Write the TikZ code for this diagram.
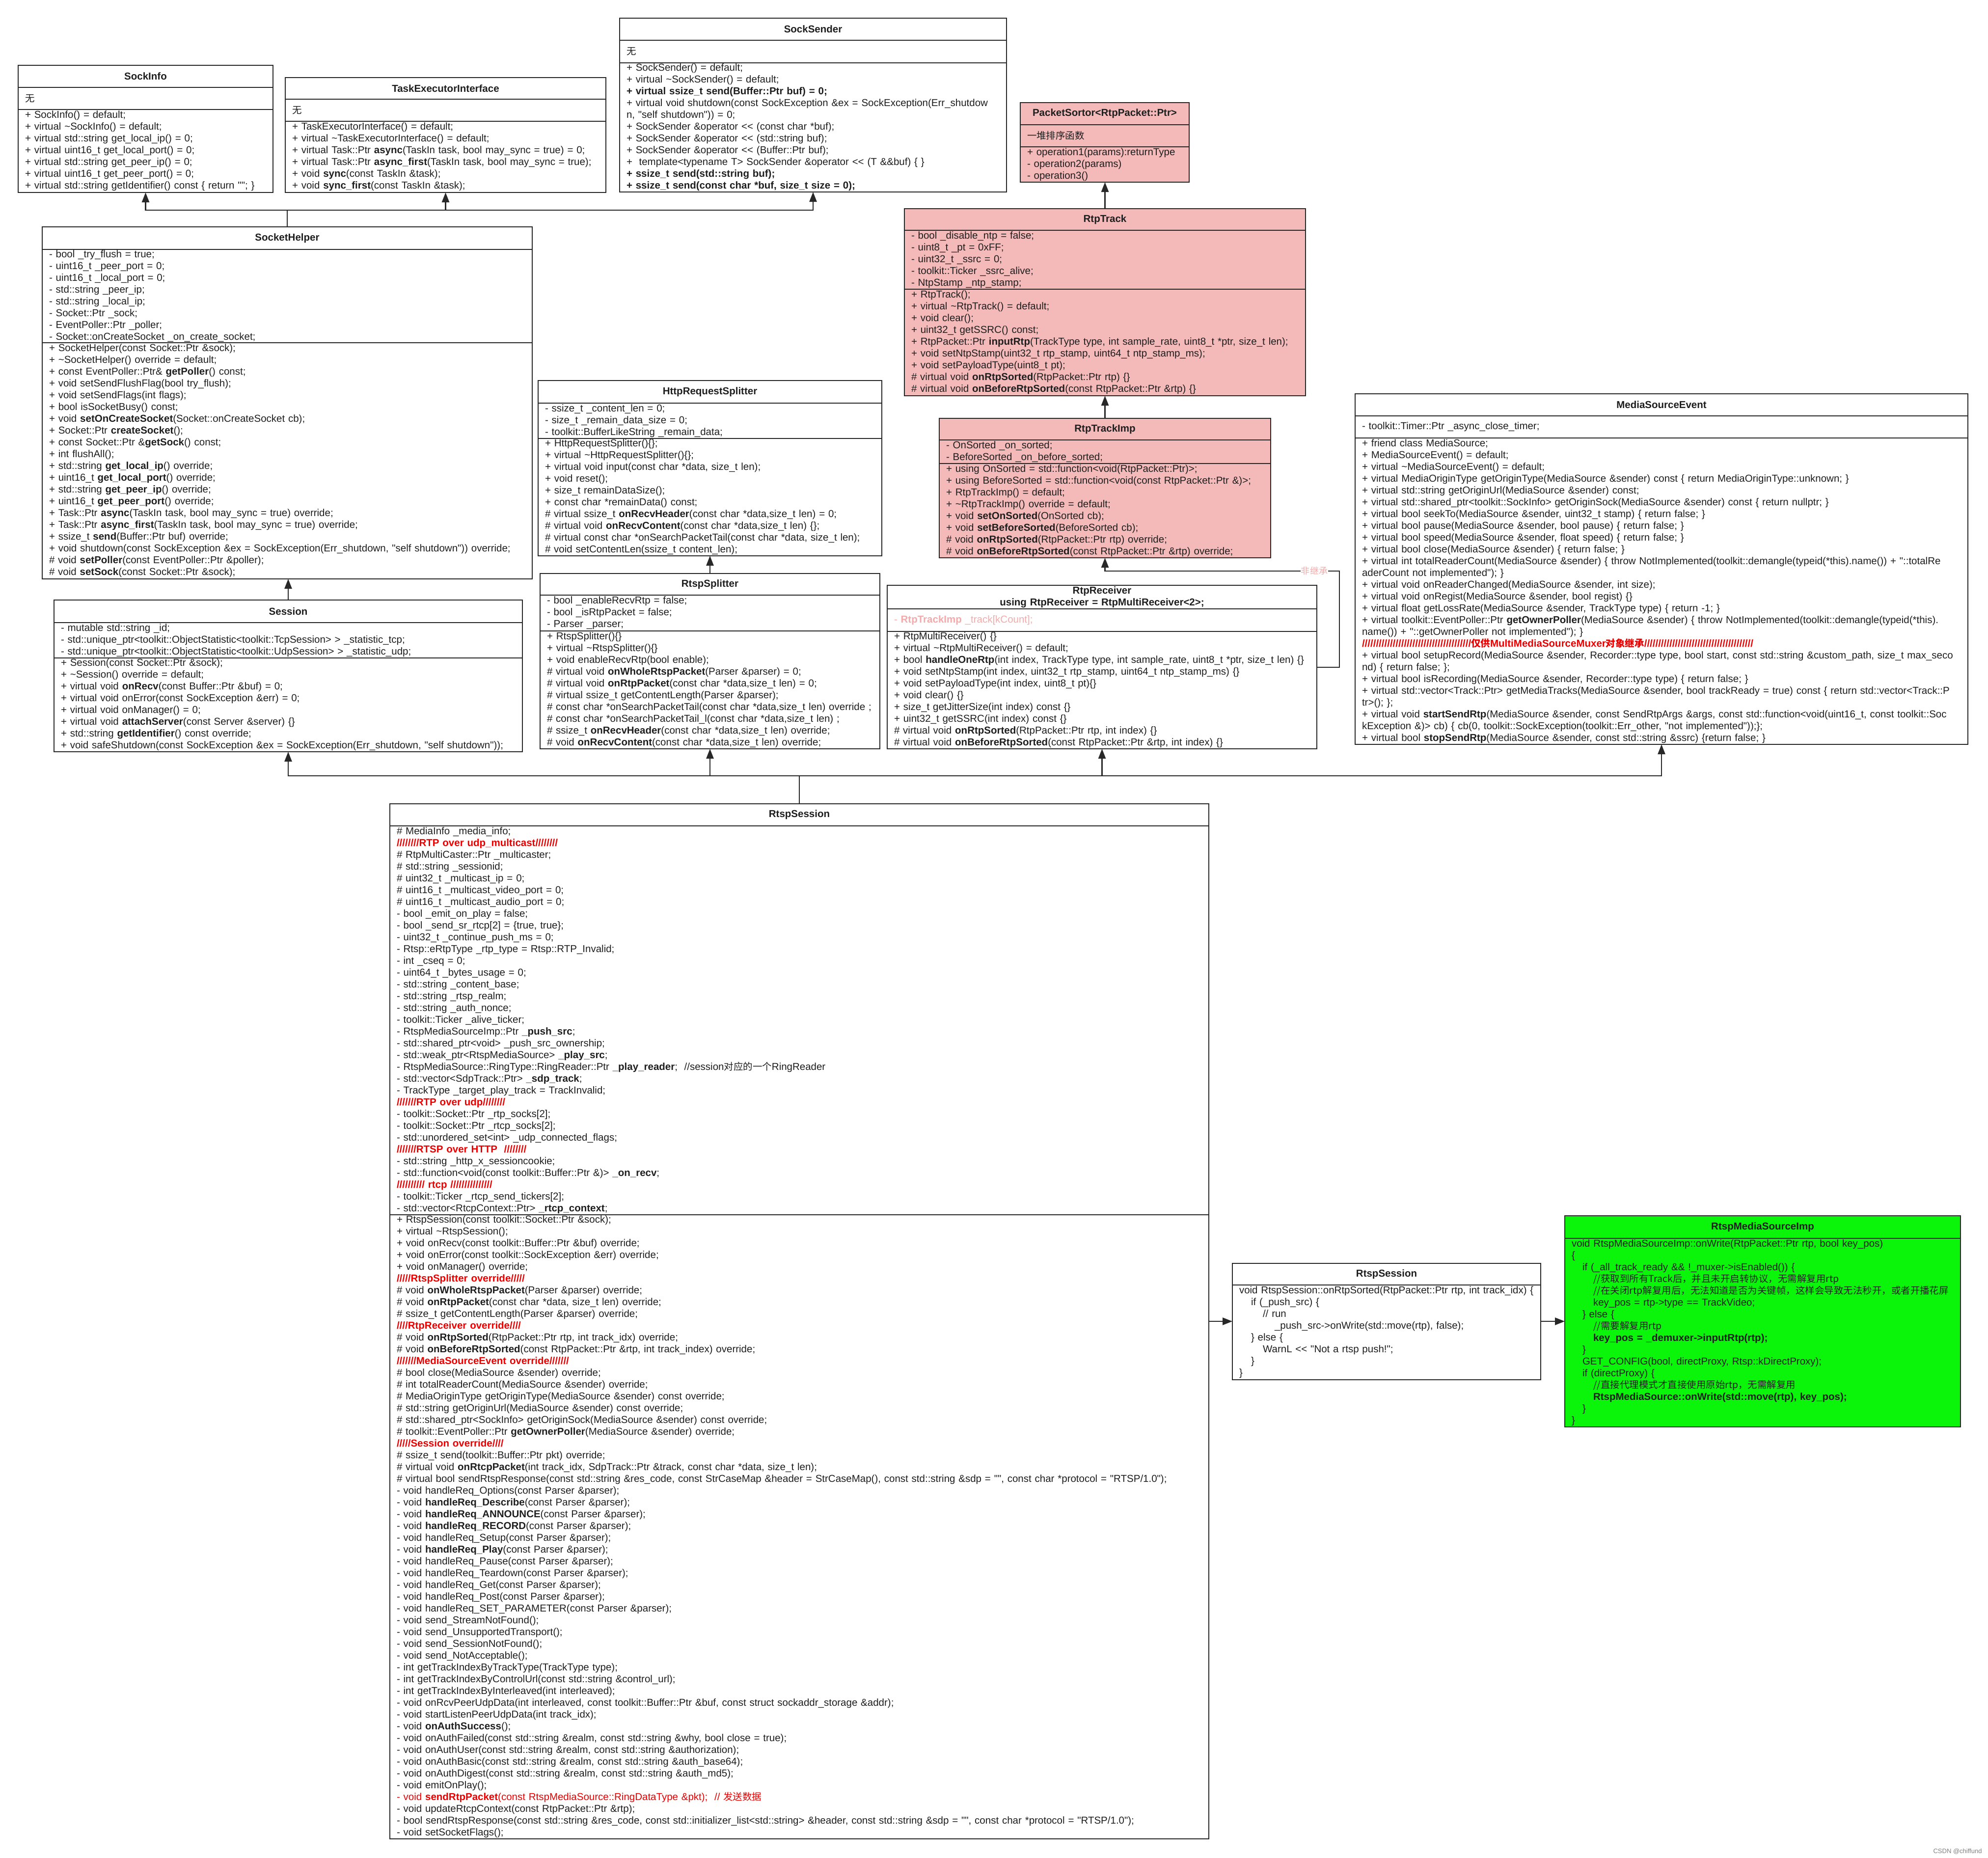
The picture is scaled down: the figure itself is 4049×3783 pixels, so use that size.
\documentclass[tikz,border=0pt]{standalone}
\usepackage{fontspec}
\setmainfont{Liberation Sans}[Ligatures=TeXOff]
\newfontfamily\cjk[Scale=0.95]{Noto Sans CJK SC}
\usetikzlibrary{arrows.meta, positioning}
\definecolor{linec}{RGB}{40,40,40}
\definecolor{textc}{RGB}{30,30,30}
\definecolor{pinkfill}{RGB}{244,185,185}
\definecolor{greenfill}{RGB}{10,245,10}
\definecolor{redtext}{RGB}{235,0,0}
\definecolor{pinktext}{RGB}{242,170,170}
\newcommand\umlfont{\fontsize{20.5}{24}\selectfont\lineskiplimit=-50pt\relax}
\newcommand\tld{\textasciitilde}
\newcommand\redsep[1]{\textcolor{redtext}{\bfseries #1}}

\begin{document}
\begin{tikzpicture}[x=1pt, y=1pt,
    umlpart/.style={draw=linec, line width=2.5pt, fill=white, outer sep=0pt, inner xsep=14pt, inner ysep=1pt, text=textc, font=\umlfont, align=left},
    umlhead/.style={umlpart, font=\umlfont\bfseries, align=center, anchor=north west},
    inherit/.style={draw=linec, line width=2.5pt, -{Triangle[length=20pt, width=15pt]}},
    notelabel/.style={fill=white, text=pinktext, inner sep=1pt, font=\fontsize{19}{22}\selectfont}]
    \path[use as bounding box, fill=white] (0,0) rectangle (4049,-3783);

    % SockInfo
    \node[umlhead, text width=491pt, minimum height=45pt] (sockinfo) at (37,-133) {SockInfo};
    \node[umlpart, text width=491pt, minimum height=45pt, below=0pt of sockinfo] (sockinfo-a) {{\cjk 无}};
    \node[umlpart, text width=491pt, minimum height=169pt, below=0pt of sockinfo-a] (sockinfo-m) {+ SockInfo() = default;\\
+ virtual \tld SockInfo() = default;\\
+ virtual std::string get\_local\_ip() = 0;\\
+ virtual uint16\_t get\_local\_port() = 0;\\
+ virtual std::string get\_peer\_ip() = 0;\\
+ virtual uint16\_t get\_peer\_port() = 0;\\
+ virtual std::string getIdentifier() const \{ return ""; \}};

    % TaskExecutorInterface
    \node[umlhead, text width=625pt, minimum height=44pt] (taskexec) at (581,-158) {TaskExecutorInterface};
    \node[umlpart, text width=625pt, minimum height=45pt, below=0pt of taskexec] (taskexec-a) {{\cjk 无}};
    \node[umlpart, text width=625pt, minimum height=145pt, below=0pt of taskexec-a] (taskexec-m) {+ TaskExecutorInterface() = default;\\
+ virtual \tld TaskExecutorInterface() = default;\\
+ virtual Task::Ptr \textbf{async}(TaskIn task, bool may\_sync = true) = 0;\\
+ virtual Task::Ptr \textbf{async\_first}(TaskIn task, bool may\_sync = true);\\
+ void \textbf{sync}(const TaskIn \&task);\\
+ void \textbf{sync\_first}(const TaskIn \&task);};

    % SockSender
    \node[umlhead, text width=760pt, minimum height=45pt] (socksender) at (1262,-37) {SockSender};
    \node[umlpart, text width=760pt, minimum height=46pt, below=0pt of socksender] (socksender-a) {{\cjk 无}};
    \node[umlpart, text width=760pt, minimum height=263pt, below=0pt of socksender-a] (socksender-m) {+ SockSender() = default;\\
+ virtual \tld SockSender() = default;\\
\textbf{+ virtual ssize\_t send(Buffer::Ptr buf) = 0;}\\
+ virtual void shutdown(const SockException \&ex = SockException(Err\_shutdow\\
n, "self shutdown")) = 0;\\
+ SockSender \&operator << (const char *buf);\\
+ SockSender \&operator << (std::string buf);\\
+ SockSender \&operator << (Buffer::Ptr buf);\\
+ \ template<typename T> SockSender \&operator << (T \&\&buf) \{ \}\\
\textbf{+ ssize\_t send(std::string buf);}\\
\textbf{+ ssize\_t send(const char *buf, size\_t size = 0);}};

    % PacketSortor
    \node[umlhead, fill=pinkfill, text width=316pt, minimum height=45pt] (sortor) at (2078,-209) {PacketSortor<RtpPacket::Ptr>};
    \node[umlpart, fill=pinkfill, text width=316pt, minimum height=45pt, below=0pt of sortor] (sortor-a) {{\cjk 一堆排序函数}};
    \node[umlpart, fill=pinkfill, text width=316pt, minimum height=72pt, below=0pt of sortor-a] (sortor-m) {+ operation1(params):returnType\\
- operation2(params)\\
- operation3()};

    % RtpTrack
    \node[umlhead, fill=pinkfill, text width=789pt, minimum height=44pt] (rtptrack) at (1842,-425) {RtpTrack};
    \node[umlpart, fill=pinkfill, text width=789pt, minimum height=120pt, below=0pt of rtptrack] (rtptrack-a) {- bool \_disable\_ntp = false;\\
- uint8\_t \_pt = 0xFF;\\
- uint32\_t \_ssrc = 0;\\
- toolkit::Ticker \_ssrc\_alive;\\
- NtpStamp \_ntp\_stamp;};
    \node[umlpart, fill=pinkfill, text width=789pt, minimum height=217pt, below=0pt of rtptrack-a] (rtptrack-m) {+ RtpTrack();\\
+ virtual \tld RtpTrack() = default;\\
+ void clear();\\
+ uint32\_t getSSRC() const;\\
+ RtpPacket::Ptr \textbf{inputRtp}(TrackType type, int sample\_rate, uint8\_t *ptr, size\_t len);\\
+ void setNtpStamp(uint32\_t rtp\_stamp, uint64\_t ntp\_stamp\_ms);\\
+ void setPayloadType(uint8\_t pt);\\
\# virtual void \textbf{onRtpSorted}(RtpPacket::Ptr rtp) \{\}\\
\# virtual void \textbf{onBeforeRtpSorted}(const RtpPacket::Ptr \&rtp) \{\}};

    % SocketHelper
    \node[umlhead, text width=970pt, minimum height=46pt] (sockhelper) at (86,-462) {SocketHelper};
    \node[umlpart, text width=970pt, minimum height=190pt, below=0pt of sockhelper] (sockhelper-a) {- bool \_try\_flush = true;\\
- uint16\_t \_peer\_port = 0;\\
- uint16\_t \_local\_port = 0;\\
- std::string \_peer\_ip;\\
- std::string \_local\_ip;\\
- Socket::Ptr \_sock;\\
- EventPoller::Ptr \_poller;\\
- Socket::onCreateSocket \_on\_create\_socket;};
    \node[umlpart, text width=970pt, minimum height=481pt, below=0pt of sockhelper-a] (sockhelper-m) {+ SocketHelper(const Socket::Ptr \&sock);\\
+ \tld SocketHelper() override = default;\\
+ const EventPoller::Ptr\& \textbf{getPoller}() const;\\
+ void setSendFlushFlag(bool try\_flush);\\
+ void setSendFlags(int flags);\\
+ bool isSocketBusy() const;\\
+ void \textbf{setOnCreateSocket}(Socket::onCreateSocket cb);\\
+ Socket::Ptr \textbf{createSocket}();\\
+ const Socket::Ptr \&\textbf{getSock}() const;\\
+ int flushAll();\\
+ std::string \textbf{get\_local\_ip}() override;\\
+ uint16\_t \textbf{get\_local\_port}() override;\\
+ std::string \textbf{get\_peer\_ip}() override;\\
+ uint16\_t \textbf{get\_peer\_port}() override;\\
+ Task::Ptr \textbf{async}(TaskIn task, bool may\_sync = true) override;\\
+ Task::Ptr \textbf{async\_first}(TaskIn task, bool may\_sync = true) override;\\
+ ssize\_t \textbf{send}(Buffer::Ptr buf) override;\\
+ void shutdown(const SockException \&ex = SockException(Err\_shutdown, "self shutdown")) override;\\
\# void \textbf{setPoller}(const EventPoller::Ptr \&poller);\\
\# void \textbf{setSock}(const Socket::Ptr \&sock);};

    % HttpRequestSplitter
    \node[umlhead, text width=672pt, minimum height=46pt] (httpsplitter) at (1096,-775) {HttpRequestSplitter};
    \node[umlpart, text width=672pt, minimum height=72pt, below=0pt of httpsplitter] (httpsplitter-a) {- ssize\_t \_content\_len = 0;\\
- size\_t \_remain\_data\_size = 0;\\
- toolkit::BufferLikeString \_remain\_data;};
    \node[umlpart, text width=672pt, minimum height=239pt, below=0pt of httpsplitter-a] (httpsplitter-m) {+ HttpRequestSplitter()\{\};\\
+ virtual \tld HttpRequestSplitter()\{\};\\
+ virtual void input(const char *data, size\_t len);\\
+ void reset();\\
+ size\_t remainDataSize();\\
+ const char *remainData() const;\\
\# virtual ssize\_t \textbf{onRecvHeader}(const char *data,size\_t len) = 0;\\
\# virtual void \textbf{onRecvContent}(const char *data,size\_t len) \{\};\\
\# virtual const char *onSearchPacketTail(const char *data, size\_t len);\\
\# void setContentLen(ssize\_t content\_len);};

    % RtpTrackImp
    \node[umlhead, fill=pinkfill, text width=647pt, minimum height=44pt] (rtptrackimp) at (1913,-852) {RtpTrackImp};
    \node[umlpart, fill=pinkfill, text width=647pt, minimum height=48pt, below=0pt of rtptrackimp] (rtptrackimp-a) {- OnSorted \_on\_sorted;\\
- BeforeSorted \_on\_before\_sorted;};
    \node[umlpart, fill=pinkfill, text width=647pt, minimum height=192pt, below=0pt of rtptrackimp-a] (rtptrackimp-m) {+ using OnSorted = std::function<void(RtpPacket::Ptr)>;\\
+ using BeforeSorted = std::function<void(const RtpPacket::Ptr \&)>;\\
+ RtpTrackImp() = default;\\
+ \tld RtpTrackImp() override = default;\\
+ void \textbf{setOnSorted}(OnSorted cb);\\
+ void \textbf{setBeforeSorted}(BeforeSorted cb);\\
\# void \textbf{onRtpSorted}(RtpPacket::Ptr rtp) override;\\
\# void \textbf{onBeforeRtpSorted}(const RtpPacket::Ptr \&rtp) override;};

    % MediaSourceEvent
    \node[umlhead, text width=1220pt, minimum height=45pt] (mediaevent) at (2760,-802) {MediaSourceEvent};
    \node[umlpart, text width=1220pt, minimum height=45pt, below=0pt of mediaevent] (mediaevent-a) {- toolkit::Timer::Ptr \_async\_close\_timer;};
    \node[umlpart, text width=1220pt, minimum height=624pt, below=0pt of mediaevent-a] (mediaevent-m) {+ friend class MediaSource;\\
+ MediaSourceEvent() = default;\\
+ virtual \tld MediaSourceEvent() = default;\\
+ virtual MediaOriginType getOriginType(MediaSource \&sender) const \{ return MediaOriginType::unknown; \}\\
+ virtual std::string getOriginUrl(MediaSource \&sender) const;\\
+ virtual std::shared\_ptr<toolkit::SockInfo> getOriginSock(MediaSource \&sender) const \{ return nullptr; \}\\
+ virtual bool seekTo(MediaSource \&sender, uint32\_t stamp) \{ return false; \}\\
+ virtual bool pause(MediaSource \&sender, bool pause) \{ return false; \}\\
+ virtual bool speed(MediaSource \&sender, float speed) \{ return false; \}\\
+ virtual bool close(MediaSource \&sender) \{ return false; \}\\
+ virtual int totalReaderCount(MediaSource \&sender) \{ throw NotImplemented(toolkit::demangle(typeid(*this).name()) + "::totalRe\\
aderCount not implemented"); \}\\
+ virtual void onReaderChanged(MediaSource \&sender, int size);\\
+ virtual void onRegist(MediaSource \&sender, bool regist) \{\}\\
+ virtual float getLossRate(MediaSource \&sender, TrackType type) \{ return -1; \}\\
+ virtual toolkit::EventPoller::Ptr \textbf{getOwnerPoller}(MediaSource \&sender) \{ throw NotImplemented(toolkit::demangle(typeid(*this).\\
name()) + "::getOwnerPoller not implemented"); \}\\
\redsep{///////////////////////////////////////{\cjk 仅供}MultiMediaSourceMuxer{\cjk 对象继承}///////////////////////////////////////}\\
+ virtual bool setupRecord(MediaSource \&sender, Recorder::type type, bool start, const std::string \&custom\_path, size\_t max\_seco\\
nd) \{ return false; \};\\
+ virtual bool isRecording(MediaSource \&sender, Recorder::type type) \{ return false; \}\\
+ virtual std::vector<Track::Ptr> getMediaTracks(MediaSource \&sender, bool trackReady = true) const \{ return std::vector<Track::P\\
tr>(); \};\\
+ virtual void \textbf{startSendRtp}(MediaSource \&sender, const SendRtpArgs \&args, const std::function<void(uint16\_t, const toolkit::Soc\\
kException \&)> cb) \{ cb(0, toolkit::SockException(toolkit::Err\_other, "not implemented"));\};\\
+ virtual bool \textbf{stopSendRtp}(MediaSource \&sender, const std::string \&ssrc) \{return false; \}};

    % Session
    \node[umlhead, text width=926pt, minimum height=46pt] (session) at (110,-1222) {Session};
    \node[umlpart, text width=926pt, minimum height=72pt, below=0pt of session] (session-a) {- mutable std::string \_id;\\
- std::unique\_ptr<toolkit::ObjectStatistic<toolkit::TcpSession> > \_statistic\_tcp;\\
- std::unique\_ptr<toolkit::ObjectStatistic<toolkit::UdpSession> > \_statistic\_udp;};
    \node[umlpart, text width=926pt, minimum height=191pt, below=0pt of session-a] (session-m) {+ Session(const Socket::Ptr \&sock);\\
+ \tld Session() override = default;\\
+ virtual void \textbf{onRecv}(const Buffer::Ptr \&buf) = 0;\\
+ virtual void onError(const SockException \&err) = 0;\\
+ virtual void onManager() = 0;\\
+ virtual void \textbf{attachServer}(const Server \&server) \{\}\\
+ std::string \textbf{getIdentifier}() const override;\\
+ void safeShutdown(const SockException \&ex = SockException(Err\_shutdown, "self shutdown"));};

    % RtspSplitter
    \node[umlhead, text width=664pt, minimum height=44pt] (rtspsplitter) at (1100,-1168) {RtspSplitter};
    \node[umlpart, text width=664pt, minimum height=73pt, below=0pt of rtspsplitter] (rtspsplitter-a) {- bool \_enableRecvRtp = false;\\
- bool \_isRtpPacket = false;\\
- Parser \_parser;};
    \node[umlpart, text width=664pt, minimum height=240pt, below=0pt of rtspsplitter-a] (rtspsplitter-m) {+ RtspSplitter()\{\}\\
+ virtual \tld RtspSplitter()\{\}\\
+ void enableRecvRtp(bool enable);\\
\# virtual void \textbf{onWholeRtspPacket}(Parser \&parser) = 0;\\
\# virtual void \textbf{onRtpPacket}(const char *data,size\_t len) = 0;\\
\# virtual ssize\_t getContentLength(Parser \&parser);\\
\# const char *onSearchPacketTail(const char *data,size\_t len) override ;\\
\# const char *onSearchPacketTail\_l(const char *data,size\_t len) ;\\
\# ssize\_t \textbf{onRecvHeader}(const char *data,size\_t len) override;\\
\# void \textbf{onRecvContent}(const char *data,size\_t len) override;};

    % RtpReceiver
    \node[umlhead, text width=847pt, minimum height=48pt] (rtpreceiver) at (1807,-1192) {RtpReceiver\\using RtpReceiver = RtpMultiReceiver<2>;};
    \node[umlpart, text width=847pt, minimum height=46pt, below=0pt of rtpreceiver] (rtpreceiver-a) {\textcolor{pinktext}{- \textbf{RtpTrackImp} \_track[kCount];}};
    \node[umlpart, text width=847pt, minimum height=239pt, below=0pt of rtpreceiver-a] (rtpreceiver-m) {+ RtpMultiReceiver() \{\}\\
+ virtual \tld RtpMultiReceiver() = default;\\
+ bool \textbf{handleOneRtp}(int index, TrackType type, int sample\_rate, uint8\_t *ptr, size\_t len) \{\}\\
+ void setNtpStamp(int index, uint32\_t rtp\_stamp, uint64\_t ntp\_stamp\_ms) \{\}\\
+ void setPayloadType(int index, uint8\_t pt)\{\}\\
+ void clear() \{\}\\
+ size\_t getJitterSize(int index) const \{\}\\
+ uint32\_t getSSRC(int index) const \{\}\\
\# virtual void \textbf{onRtpSorted}(RtpPacket::Ptr rtp, int index) \{\}\\
\# virtual void \textbf{onBeforeRtpSorted}(const RtpPacket::Ptr \&rtp, int index) \{\}};

    % RtspSession
    \node[umlhead, text width=1640pt, minimum height=45pt] (rtspsession) at (794,-1637) {RtspSession};
    \node[umlpart, text width=1640pt, minimum height=792pt, below=0pt of rtspsession] (rtspsession-a) {\# MediaInfo \_media\_info;\\
\redsep{////////RTP over udp\_multicast////////}\\
\# RtpMultiCaster::Ptr \_multicaster;\\
\# std::string \_sessionid;\\
\# uint32\_t \_multicast\_ip = 0;\\
\# uint16\_t \_multicast\_video\_port = 0;\\
\# uint16\_t \_multicast\_audio\_port = 0;\\
- bool \_emit\_on\_play = false;\\
- bool \_send\_sr\_rtcp[2] = \{true, true\};\\
- uint32\_t \_continue\_push\_ms = 0;\\
- Rtsp::eRtpType \_rtp\_type = Rtsp::RTP\_Invalid;\\
- int \_cseq = 0;\\
- uint64\_t \_bytes\_usage = 0;\\
- std::string \_content\_base;\\
- std::string \_rtsp\_realm;\\
- std::string \_auth\_nonce;\\
- toolkit::Ticker \_alive\_ticker;\\
- RtspMediaSourceImp::Ptr \textbf{\_push\_src};\\
- std::shared\_ptr<void> \_push\_src\_ownership;\\
- std::weak\_ptr<RtspMediaSource> \textbf{\_play\_src};\\
- RtspMediaSource::RingType::RingReader::Ptr \textbf{\_play\_reader}; \ //session{\cjk 对应的一个}RingReader\\
- std::vector<SdpTrack::Ptr> \textbf{\_sdp\_track};\\
- TrackType \_target\_play\_track = TrackInvalid;\\
\redsep{///////RTP over udp////////}\\
- toolkit::Socket::Ptr \_rtp\_socks[2];\\
- toolkit::Socket::Ptr \_rtcp\_socks[2];\\
- std::unordered\_set<int> \_udp\_connected\_flags;\\
\redsep{///////RTSP over HTTP \ ////////}\\
- std::string \_http\_x\_sessioncookie;\\
- std::function<void(const toolkit::Buffer::Ptr \&)> \textbf{\_on\_recv};\\
\redsep{////////// rtcp ///////////////}\\
- toolkit::Ticker \_rtcp\_send\_tickers[2];\\
- std::vector<RtcpContext::Ptr> \textbf{\_rtcp\_context};};
    \node[umlpart, text width=1640pt, minimum height=1271pt, below=0pt of rtspsession-a] (rtspsession-m) {+ RtspSession(const toolkit::Socket::Ptr \&sock);\\
+ virtual \tld RtspSession();\\
+ void onRecv(const toolkit::Buffer::Ptr \&buf) override;\\
+ void onError(const toolkit::SockException \&err) override;\\
+ void onManager() override;\\
\redsep{/////RtspSplitter override/////}\\
\# void \textbf{onWholeRtspPacket}(Parser \&parser) override;\\
\# void \textbf{onRtpPacket}(const char *data, size\_t len) override;\\
\# ssize\_t getContentLength(Parser \&parser) override;\\
\redsep{////RtpReceiver override////}\\
\# void \textbf{onRtpSorted}(RtpPacket::Ptr rtp, int track\_idx) override;\\
\# void \textbf{onBeforeRtpSorted}(const RtpPacket::Ptr \&rtp, int track\_index) override;\\
\redsep{///////MediaSourceEvent override///////}\\
\# bool close(MediaSource \&sender) override;\\
\# int totalReaderCount(MediaSource \&sender) override;\\
\# MediaOriginType getOriginType(MediaSource \&sender) const override;\\
\# std::string getOriginUrl(MediaSource \&sender) const override;\\
\# std::shared\_ptr<SockInfo> getOriginSock(MediaSource \&sender) const override;\\
\# toolkit::EventPoller::Ptr \textbf{getOwnerPoller}(MediaSource \&sender) override;\\
\redsep{/////Session override////}\\
\# ssize\_t send(toolkit::Buffer::Ptr pkt) override;\\
\# virtual void \textbf{onRtcpPacket}(int track\_idx, SdpTrack::Ptr \&track, const char *data, size\_t len);\\
\# virtual bool sendRtspResponse(const std::string \&res\_code, const StrCaseMap \&header = StrCaseMap(), const std::string \&sdp = "", const char *protocol = "RTSP/1.0");\\
- void handleReq\_Options(const Parser \&parser);\\
- void \textbf{handleReq\_Describe}(const Parser \&parser);\\
- void \textbf{handleReq\_ANNOUNCE}(const Parser \&parser);\\
- void \textbf{handleReq\_RECORD}(const Parser \&parser);\\
- void handleReq\_Setup(const Parser \&parser);\\
- void \textbf{handleReq\_Play}(const Parser \&parser);\\
- void handleReq\_Pause(const Parser \&parser);\\
- void handleReq\_Teardown(const Parser \&parser);\\
- void handleReq\_Get(const Parser \&parser);\\
- void handleReq\_Post(const Parser \&parser);\\
- void handleReq\_SET\_PARAMETER(const Parser \&parser);\\
- void send\_StreamNotFound();\\
- void send\_UnsupportedTransport();\\
- void send\_SessionNotFound();\\
- void send\_NotAcceptable();\\
- int getTrackIndexByTrackType(TrackType type);\\
- int getTrackIndexByControlUrl(const std::string \&control\_url);\\
- int getTrackIndexByInterleaved(int interleaved);\\
- void onRcvPeerUdpData(int interleaved, const toolkit::Buffer::Ptr \&buf, const struct sockaddr\_storage \&addr);\\
- void startListenPeerUdpData(int track\_idx);\\
- void \textbf{onAuthSuccess}();\\
- void onAuthFailed(const std::string \&realm, const std::string \&why, bool close = true);\\
- void onAuthUser(const std::string \&realm, const std::string \&authorization);\\
- void onAuthBasic(const std::string \&realm, const std::string \&auth\_base64);\\
- void onAuthDigest(const std::string \&realm, const std::string \&auth\_md5);\\
- void emitOnPlay();\\
\textcolor{redtext}{- void \textbf{sendRtpPacket}(const RtspMediaSource::RingDataType \&pkt); \ // {\cjk 发送数据}}\\
- void updateRtcpContext(const RtpPacket::Ptr \&rtp);\\
- bool sendRtspResponse(const std::string \&res\_code, const std::initializer\_list<std::string> \&header, const std::string \&sdp = "", const char *protocol = "RTSP/1.0");\\
- void setSocketFlags();};

    % RtspSession::onRtpSorted
    \node[umlhead, text width=600pt, minimum height=44pt] (onsorted) at (2510,-2573) {RtspSession};
    \node[umlpart, text width=600pt, minimum height=193pt, below=0pt of onsorted] (onsorted-m) {void RtspSession::onRtpSorted(RtpPacket::Ptr rtp, int track\_idx) \{\\
\hspace*{24pt}if (\_push\_src) \{\\
\hspace*{48pt}// run\\
\hspace*{72pt}\_push\_src->onWrite(std::move(rtp), false);\\
\hspace*{24pt}\} else \{\\
\hspace*{48pt}WarnL << "Not a rtsp push!";\\
\hspace*{24pt}\}\\
\}};

    % RtspMediaSourceImp::onWrite
    \node[umlhead, fill=greenfill, text width=778pt, minimum height=46pt] (onwrite) at (3187,-2476) {RtspMediaSourceImp};
    \node[umlpart, fill=greenfill, text width=778pt, minimum height=384pt, below=0pt of onwrite] (onwrite-m) {void RtspMediaSourceImp::onWrite(RtpPacket::Ptr rtp, bool key\_pos)\\
\{\\
\hspace*{22pt}if (\_all\_track\_ready \&\& !\_muxer->isEnabled()) \{\\
\hspace*{44pt}{\cjk //获取到所有Track后，并且未开启转协议，无需解复用rtp}\\
\hspace*{44pt}{\cjk //在关闭rtp解复用后，无法知道是否为关键帧，这样会导致无法秒开，或者开播花屏}\\
\hspace*{44pt}key\_pos = rtp->type == TrackVideo;\\
\hspace*{22pt}\} else \{\\
\hspace*{44pt}{\cjk //需要解复用rtp}\\
\hspace*{44pt}\textbf{key\_pos = \_demuxer->inputRtp(rtp);}\\
\hspace*{22pt}\}\\
\hspace*{22pt}GET\_CONFIG(bool, directProxy, Rtsp::kDirectProxy);\\
\hspace*{22pt}if (directProxy) \{\\
\hspace*{44pt}{\cjk //直接代理模式才直接使用原始rtp，无需解复用}\\
\hspace*{44pt}\textbf{RtspMediaSource::onWrite(std::move(rtp), key\_pos);}\\
\hspace*{22pt}\}\\
\}};

    % inheritance
    \draw[inherit] (sockhelper.north) -- ++(0,34) -| (sockinfo-m.south);
    \draw[inherit] (sockhelper.north) -- ++(0,34) -| (taskexec-m.south);
    \draw[inherit] (sockhelper.north) -- ++(0,34) -| (socksender-m.south);
    \draw[inherit] (session.north) -- (session.north |- sockhelper-m.south);
    \draw[inherit] (rtspsplitter.north) -- (rtspsplitter.north |- httpsplitter-m.south);
    \draw[inherit] (rtptrack.north) -- (rtptrack.north |- sortor-m.south);
    \draw[inherit] (rtptrackimp.north) -- (rtptrackimp.north |- rtptrack-m.south);
    \draw[inherit] (rtspsession.north) -- ++(0,57) -| (session-m.south);
    \draw[inherit] (rtspsession.north) -- ++(0,57) -| (rtspsplitter-m.south);
    \draw[inherit] (rtspsession.north) -- ++(0,57) -| (rtpreceiver-m.south);
    \draw[inherit] (rtspsession.north) -- ++(0,57) -| (mediaevent-m.south);

    % RtpReceiver holds RtpTrackImp
    \coordinate (recvout) at ([yshift=-73pt]rtpreceiver-m.north east);
    \coordinate (bend) at (2728,-1163);
    \draw[inherit] (recvout) -| (bend) -| (rtptrackimp-m.south);
    \node[notelabel] (nonherit) at (2677,-1163) {\cjk 非继承};

    % calls
    \coordinate (callin) at ([yshift=-118pt]onsorted.north west);
    \coordinate (callout) at ([yshift=-118pt]onsorted.north east);
    \draw[inherit] (callin -| rtspsession-m.east) -- (callin);
    \draw[inherit] (callout) -- (callout -| onwrite-m.west);

    \node[text=gray, font=\fontsize{13}{15}\selectfont, anchor=south east] (mark) at (4040,-3780) {CSDN @chiffund};
\end{tikzpicture}
\end{document}
